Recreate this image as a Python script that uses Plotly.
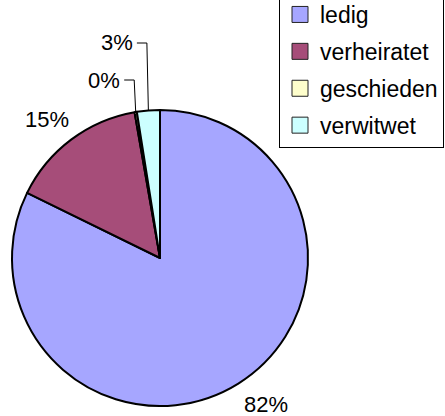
import math
import plotly.graph_objects as go

categories = ["ledig", "verheiratet", "geschieden", "verwitwet"]
counts = [329, 60, 1, 10]
colors = ["#A6A6FF", "#A64D79", "#FFFFCC", "#CCFFFF"]

W, H = 445, 416
CX, CY, R = 160, 258, 148          # pie centre / radius in pixels
FONT = "Liberation Sans, Arial"

def px(x):
    return x / W

def py(y):
    return 1 - y / H

fig = go.Figure()
fig.add_trace(go.Pie(
    labels=categories,
    values=counts,
    sort=False,
    direction="clockwise",
    rotation=0,
    marker=dict(colors=colors, line=dict(color="black", width=2)),
    textinfo="none",
    hoverinfo="label+percent",
    domain=dict(x=[px(CX - R), px(CX + R)], y=[py(CY + R), py(CY - R)]),
    showlegend=False,
))

# legend entries (one per category, separate groups for row spacing)
for name, col in zip(categories, colors):
    fig.add_trace(go.Scatter(
        x=[None], y=[None], mode="markers", name=name, legendgroup=name,
        marker=dict(symbol="square", size=16, color=col, line=dict(color="#222222", width=1)),
        hoverinfo="skip",
    ))

# percentage labels derived from the data
total = sum(counts)
cum = 0.0
annotations = []
shapes = []
small_idx = 0
for name, v in zip(categories, counts):
    a0 = cum / total * 360
    cum += v
    a1 = cum / total * 360
    mid = math.radians((a0 + a1) / 2)
    pct = v / total * 100
    label = f"{int(pct + 0.5)}%"
    dx, dy = math.sin(mid), -math.cos(mid)   # dy in screen (down) direction
    if pct >= 5:
        gap = 7
        x = CX + (R + gap) * dx
        y = CY + (R + gap) * dy
        annotations.append(dict(
            x=px(x + (0 if dx > 0 else 4)), y=py(y), xref="paper", yref="paper", text=label, showarrow=False,
            xanchor="left" if dx > 0 else "right", yanchor="top" if dy > 0 else "bottom",
            font=dict(family=FONT, size=22, color="black"),
        ))
    else:
        ex, ey = CX + R * dx, CY + R * dy
        ly = CY - R - 30 - 37 * small_idx
        small_idx += 1
        kx = ex - 1.5
        shapes.append(dict(type="path", xref="paper", yref="paper",
                           path=f"M {px(kx - 10)},{py(ly)} L {px(kx)},{py(ly)} L {px(ex)},{py(ey)}",
                           line=dict(color="black", width=1)))
        annotations.append(dict(
            x=px(kx - 12), y=py(ly), xref="paper", yref="paper", text=label, showarrow=False,
            xanchor="right", yanchor="middle",
            font=dict(family=FONT, size=22, color="black"),
        ))

fig.update_layout(
    width=W, height=H,
    margin=dict(l=0, r=0, t=0, b=0, autoexpand=False),
    paper_bgcolor="white",
    plot_bgcolor="white",
    xaxis=dict(visible=False),
    yaxis=dict(visible=False),
    font=dict(family=FONT, color="black"),
    annotations=annotations,
    shapes=shapes,
    legend=dict(
        x=279/445, xanchor="left",
        y=1 + 8/416, yanchor="top",
        bgcolor="white", bordercolor="black", borderwidth=1,
        font=dict(size=23, color="black"),
        traceorder="grouped",
        tracegroupgap=4,
    ),
)

fig.write_html("out.html", config={"displayModeBar": False},
               post_script="document.body.style.margin='0';")
